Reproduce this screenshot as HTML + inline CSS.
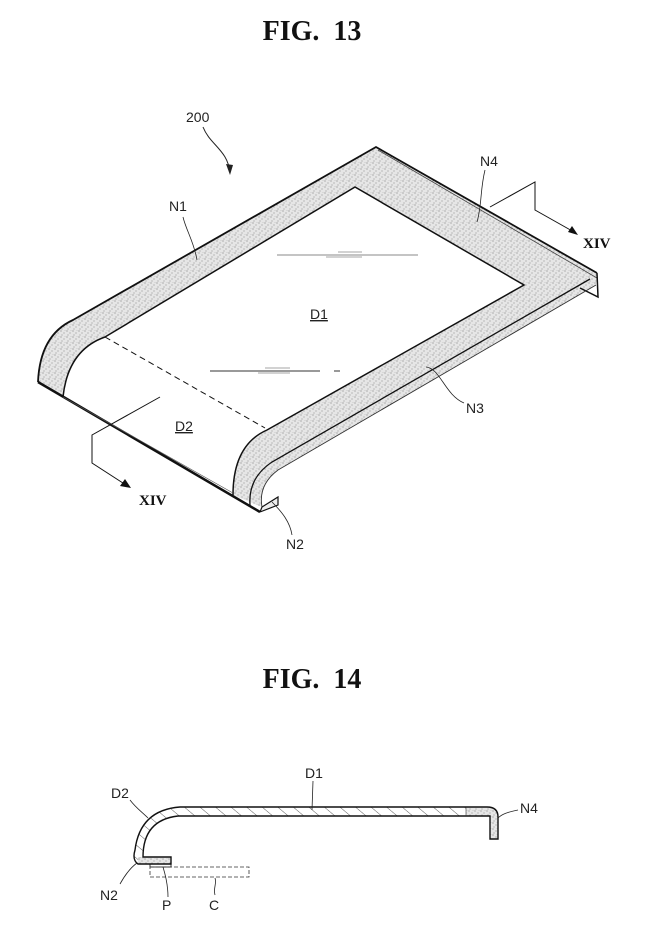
<!DOCTYPE html>
<html><head><meta charset="utf-8"><style>
html,body{margin:0;padding:0;background:#fff;}
svg{display:block;}
.t{font-family:"Liberation Sans",sans-serif;font-size:14px;fill:#222;}
.f{font-family:"Liberation Serif",serif;font-size:28px;font-weight:bold;fill:#111;white-space:pre;}
.x{font-family:"Liberation Serif",serif;font-size:15px;font-weight:bold;fill:#111;}
</style></head><body>
<svg width="646" height="945" viewBox="0 0 646 945" xmlns="http://www.w3.org/2000/svg">
<defs>
<pattern id="st" width="6" height="6" patternUnits="userSpaceOnUse">
<rect width="6" height="6" fill="#e6e6e6"/>
<circle cx="1" cy="1" r="0.6" fill="#888"/><circle cx="4" cy="3" r="0.6" fill="#999"/><circle cx="2" cy="5" r="0.5" fill="#777"/><circle cx="5" cy="0.5" r="0.4" fill="#aaa"/>
</pattern>
<pattern id="hs" width="10" height="10" patternUnits="userSpaceOnUse" patternTransform="rotate(-50)">
<rect width="10" height="10" fill="#fff"/><line x1="0" y1="0" x2="0" y2="10" stroke="#333" stroke-width="0.8"/>
</pattern>
</defs>
<text class="f" x="312" y="40" text-anchor="middle">FIG.  13</text>

<text class="t" x="186" y="122">200</text>
<path d="M203 127 C210 145 228 150 230 173" fill="none" stroke="#222" stroke-width="1"/>
<polygon points="230,175 226,164 233,165" fill="#222"/>

<!-- stipple frame -->
<path d="M38 382 Q40 335 73 320 L376 147 L597 273 L596 285 L278 470 Q258 485 262 507 L233 495 Q233 445 267 430 L524 285 L355 187 L105 337 Q68 350 63 397 Z" fill="url(#st)" stroke="none"/>
<path d="M38 382 Q40 335 73 320 L376 147 L597 273" fill="none" stroke="#111" stroke-width="1.8"/>
<path d="M378 150 L597 278" fill="none" stroke="#444" stroke-width="0.8"/>
<path d="M597 273 L598 297 L580 288" fill="none" stroke="#111" stroke-width="1.5"/>
<path d="M590 279 L272 462 Q248 478 250 505" fill="none" stroke="#111" stroke-width="1.3"/>
<path d="M596 285 L278 470 Q258 485 262 507" fill="none" stroke="#333" stroke-width="0.9"/>
<path d="M63 397 Q68 350 105 337 L355 187 L524 285 L267 430 Q233 445 233 495" fill="none" stroke="#111" stroke-width="1.5"/>
<path d="M38 382 L260 512" fill="none" stroke="#111" stroke-width="2.5"/>
<path d="M63 397 L233 493" fill="none" stroke="#555" stroke-width="0.7"/>
<path d="M260 512 L262 507 L278 497 L278 505 L260 512" fill="#eee" stroke="#111" stroke-width="1.2"/>
<path d="M105 337 L265 428" fill="none" stroke="#111" stroke-width="1" stroke-dasharray="6,4"/>
<line x1="277" y1="255" x2="418" y2="255" stroke="#888" stroke-width="1"/>
<line x1="326" y1="257" x2="362" y2="257" stroke="#888" stroke-width="0.8"/>
<line x1="338" y1="252" x2="362" y2="252" stroke="#888" stroke-width="0.8"/>
<line x1="210" y1="371" x2="320" y2="371" stroke="#333" stroke-width="1"/>
<line x1="334" y1="371" x2="340" y2="371" stroke="#333" stroke-width="1"/>
<line x1="258" y1="373" x2="290" y2="373" stroke="#888" stroke-width="0.8"/>
<line x1="265" y1="368" x2="290" y2="368" stroke="#888" stroke-width="0.8"/>

<text class="t" x="310" y="319" text-decoration="underline">D1</text>
<text class="t" x="175" y="431" text-decoration="underline">D2</text>

<text class="t" x="169" y="211">N1</text>
<path d="M183 217 C186 230 194 242 197 260" fill="none" stroke="#222" stroke-width="0.8"/>
<text class="t" x="480" y="166">N4</text>
<path d="M485 170 C480 190 482 205 477 222" fill="none" stroke="#222" stroke-width="0.8"/>
<text class="t" x="466" y="413">N3</text>
<path d="M426 367 C440 368 445 395 464 403" fill="none" stroke="#222" stroke-width="0.8"/>
<text class="t" x="286" y="549">N2</text>
<path d="M272 502 C282 512 290 522 292 535" fill="none" stroke="#222" stroke-width="0.8"/>

<path d="M490 207 L535 182 L535 210 L574 232" fill="none" stroke="#111" stroke-width="1"/>
<polygon points="578,235 568,232 572,226" fill="#111"/>
<text class="x" x="583" y="248">XIV</text>
<path d="M160 397 L92 435 L92 463 L126 485" fill="none" stroke="#111" stroke-width="1"/>
<polygon points="131,488 120,486 125,479" fill="#111"/>
<text class="x" x="139" y="505">XIV</text>

<text class="f" x="312" y="688" text-anchor="middle">FIG.  14</text>

<path d="M180 807 L487 807 Q498 807 498 817 L498 839 L490 839 L490 816 L178 816 Q143 820 143 857 L171 857 L171 864 L138 864 Q132 860 135 850 Q140 810 180 807 Z" fill="url(#hs)" stroke="none"/>
<path d="M466 807 L487 807 Q498 807 498 817 L498 839 L490 839 L490 816 L466 816 Z" fill="url(#st)"/>
<rect x="138" y="857" width="33" height="7" fill="url(#st)"/>
<path d="M180 807 L487 807 Q498 807 498 817 L498 839 L490 839 L490 816 L178 816 Q143 820 143 857 L171 857 L171 864 L138 864 Q132 860 135 850 Q140 810 180 807 Z" fill="none" stroke="#111" stroke-width="1.4"/>
<line x1="466" y1="807" x2="466" y2="816" stroke="#333" stroke-width="0.6"/>
<rect x="150" y="864" width="21" height="3" fill="none" stroke="#111" stroke-width="0.8"/>
<rect x="150" y="867" width="99" height="10" fill="none" stroke="#333" stroke-width="0.8" stroke-dasharray="4,2"/>

<text class="t" x="305" y="778">D1</text>
<path d="M313 781 L312 810" fill="none" stroke="#222" stroke-width="0.8"/>
<text class="t" x="111" y="798">D2</text>
<path d="M130 800 C136 808 142 812 148 818" fill="none" stroke="#222" stroke-width="0.8"/>
<text class="t" x="520" y="813">N4</text>
<path d="M518 810 C508 812 502 814 498 818" fill="none" stroke="#222" stroke-width="0.8"/>
<text class="t" x="100" y="900">N2</text>
<path d="M120 884 C125 875 130 868 137 863" fill="none" stroke="#222" stroke-width="0.8"/>
<text class="t" x="162" y="910">P</text>
<path d="M163 867 C167 880 168 888 168 897" fill="none" stroke="#222" stroke-width="0.8"/>
<text class="t" x="209" y="910">C</text>
<path d="M215 878 C217 884 213 888 215 895" fill="none" stroke="#222" stroke-width="0.8"/>
</svg>
</body></html>
